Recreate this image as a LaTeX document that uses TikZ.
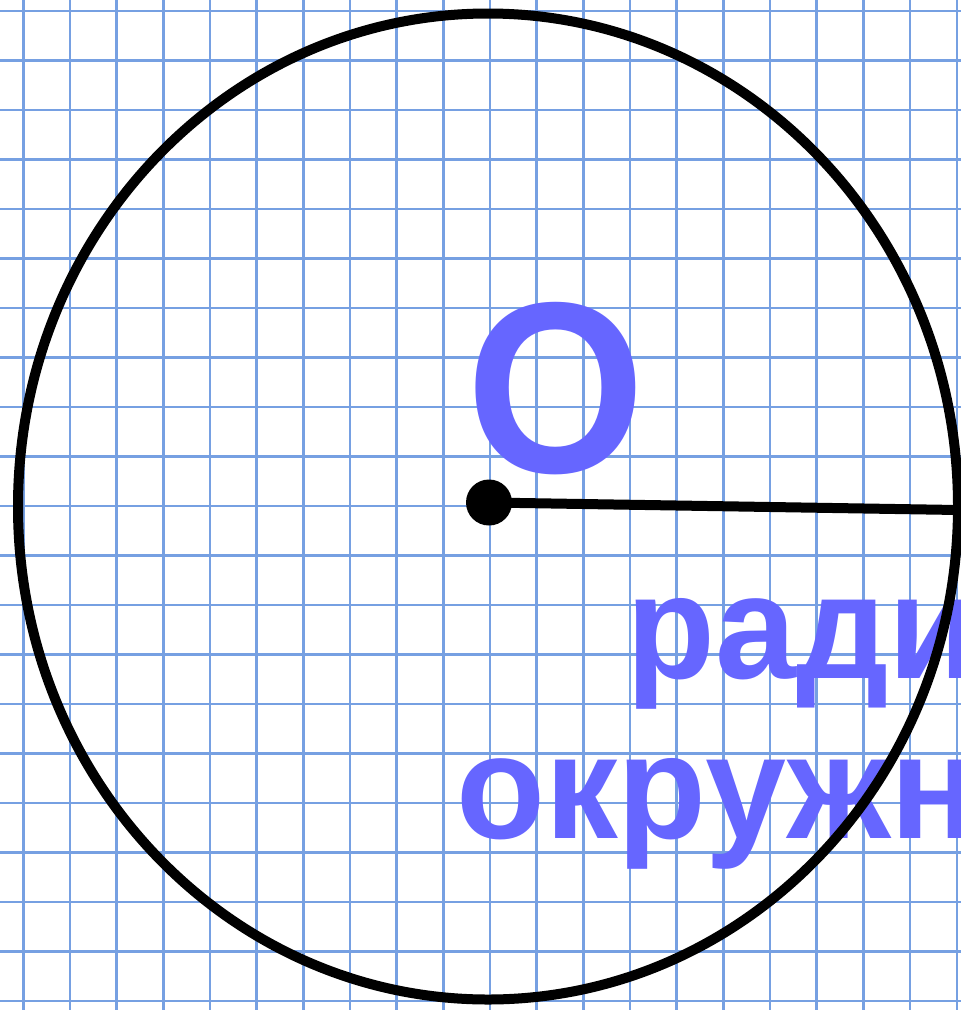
\documentclass[tikz,border=0pt]{standalone}
\usepackage{fontspec}
\setmainfont{Liberation Sans}
\definecolor{gridblue}{HTML}{76A0E2}
\definecolor{labelblue}{HTML}{6666FF}
\usetikzlibrary{positioning}

\begin{document}
\begin{tikzpicture}[x=1pt,y=-1pt]
  \useasboundingbox (0,0) rectangle (961,1010);
  \clip (0,0) rectangle (961,1010);
  % Background: squared paper
  \fill[white] (0,0) rectangle (961,1010);
  \foreach \k in {0,...,20} {
    \draw[gridblue,line width=2.4pt] ({23.3+46.67*\k},0) -- ++(0,1010);
    \draw[gridblue,line width=2.4pt] (0,{11+49.5*\k}) -- ++(961,0);
  }

  % Labels
  \node[labelblue,font=\fontsize{230}{230}\selectfont\bfseries,anchor=base west,inner sep=0pt] (letterO) at (466,472) {\scalebox{1}[1.06]{O}};
  \node[labelblue,font=\fontsize{140}{140}\selectfont\bfseries,anchor=base west,inner sep=0pt] (radword) at (626,678) {\scalebox{1.04}[1.06]{ради}};
  \node[labelblue,font=\fontsize{140}{140}\selectfont\bfseries,anchor=base west,inner sep=0pt] (circword) at (456,838) {\scalebox{1.04}[1.06]{окружн}};

  % Circle, centre and radius
  \draw[black,line width=10pt] (488,506.5) ellipse [x radius=470pt, y radius=493pt];
  \node[circle,fill=black,inner sep=0pt,minimum size=46pt] (centre) at (489,502.5) {};
  \coordinate (rim) at (958,510);
  \draw[black,line width=10pt] (centre.center) -- (rim);
\end{tikzpicture}
\end{document}
